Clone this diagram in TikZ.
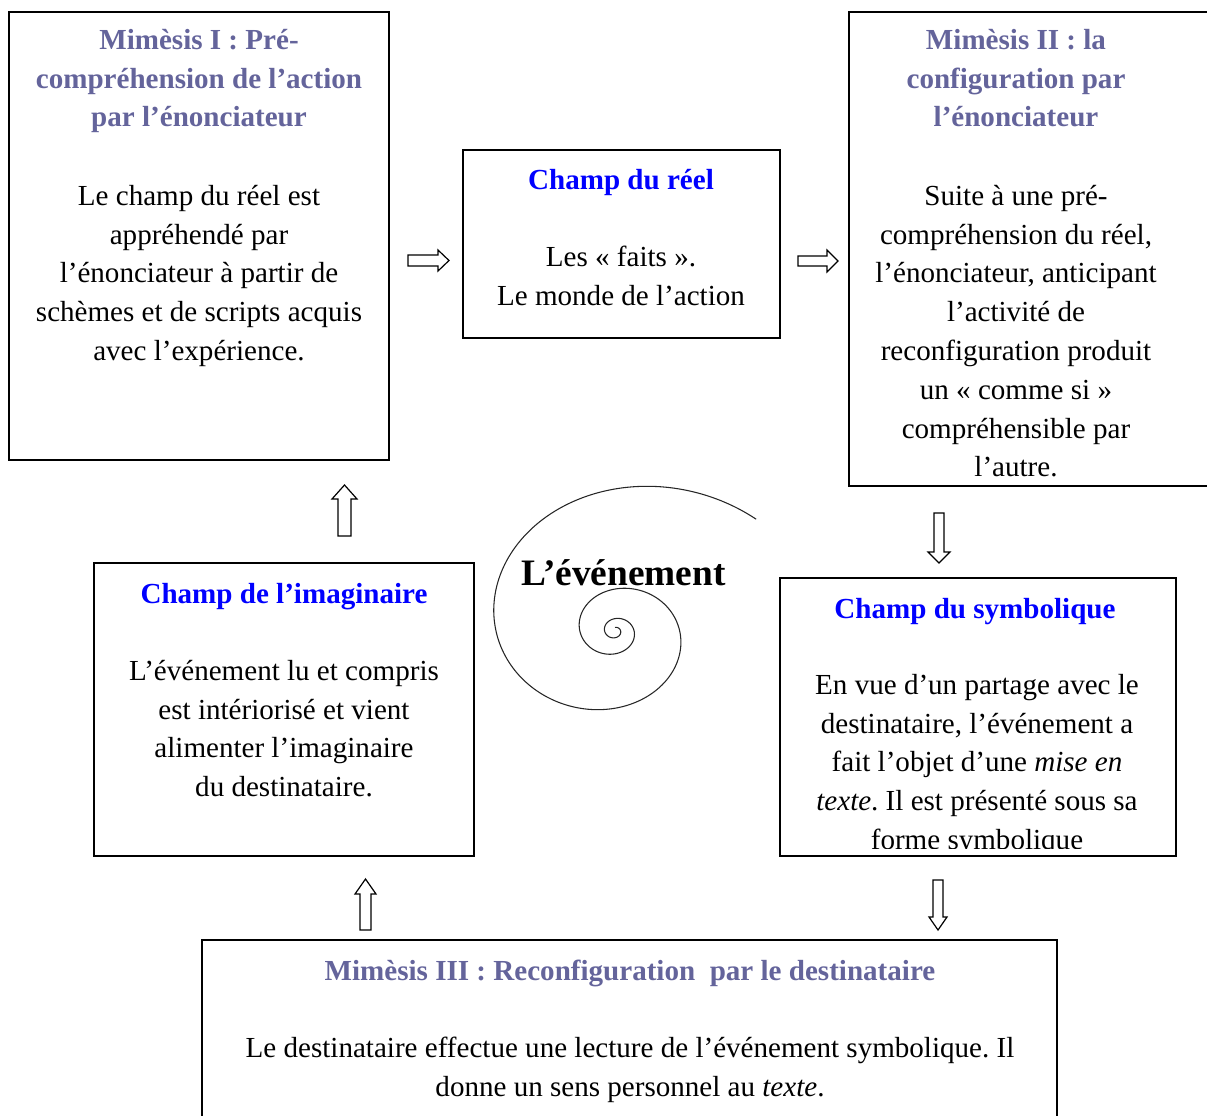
\documentclass[tikz,border=0pt]{standalone}
\usepackage{fontspec}
\setmainfont{Liberation Serif}
\frenchspacing
\definecolor{mim}{RGB}{100,100,155}
\definecolor{champ}{RGB}{0,0,255}
\tikzset{
  box/.style={draw=black, line width=1.1pt},
  txt/.style={inner sep=0pt, align=center, anchor=north, yshift=17.4pt,
    font=\fontsize{21.8pt}{29.1pt}\selectfont\frenchspacing},
  mimtitle/.style={txt, text=mim, font=\fontsize{21.8pt}{29.1pt}\selectfont\bfseries},
  champtitle/.style={txt, text=champ, font=\fontsize{21.8pt}{29.1pt}\selectfont\bfseries},
  blockarrow/.style={draw=black, line width=0.9pt, fill=white, line join=miter}
}
\begin{document}
\begin{tikzpicture}[x=0.75pt,y=-0.75pt]
\useasboundingbox (0,0) rectangle (1207,1115);
\clip (0,0) rectangle (1207,1115);

% boxes
\draw[box] (9,12) rectangle (389,460);
\draw[box] (463,150) rectangle (780,338);
\draw[box] (849,12) rectangle (1240,486);
\draw[box] (94,563) rectangle (474,856);
\draw[box] (780,578) rectangle (1176,856);
\draw[box] (202,940) rectangle (1057,1140);

% box 1
\node[mimtitle] (m1t) at (199,45) {\strut Mimèsis I : Pré-\\compréhension de l’action\\par l’énonciateur};
\node[txt] (m1b) at (199,201) {\strut Le champ du réel est\\appréhendé par\\l’énonciateur à partir de\\schèmes et de scripts acquis\\avec l’expérience.};

% box 2
\node[champtitle] (c1t) at (621,185) {\strut Champ du réel};
\node[txt] (c1b) at (621,262) {\strut Les « faits ».\\Le monde de l’action};

% box 3
\node[mimtitle] (m2t) at (1016,45) {\strut Mimèsis II : la\\configuration par\\l’énonciateur};
\node[txt] (m2b) at (1016,201) {\strut Suite à une pré-\\compréhension du réel,\\l’énonciateur, anticipant\\l’activité de\\reconfiguration produit\\un « comme si »\\compréhensible par\\l’autre.};

% box 4
\node[champtitle] (c3t) at (284,599) {\strut Champ de l’imaginaire};
\node[txt] (c3b) at (284,676) {\strut L’événement lu et compris\\est intériorisé et vient\\alimenter l’imaginaire\\du destinataire.};

% box 5
\node[champtitle] (c2t) at (975,614) {\strut Champ du symbolique};
\begin{scope}
\clip (781,579) rectangle (1175,848);
\node[txt] (c2b) at (977,690) {\strut En vue d’un partage avec le\\destinataire, l’événement a\\fait l’objet d’une \textit{mise en}\\\textit{texte}. Il est présenté sous sa\\forme symbolique};
\end{scope}

% box 6
\node[mimtitle] (m3t) at (630,976) {\strut Mimèsis III : Reconfiguration\ \ par le destinataire};
\node[txt] (m3b) at (630,1053) {\strut Le destinataire effectue une lecture de l’événement symbolique. Il\\donne un sens personnel au \textit{texte}.};

% spiral
\draw[line width=0.8pt, black!85] plot[domain=42:1170, samples=600, smooth]
  ({615+119*exp(-0.00339*(\x-180))*cos(\x)}, {631-0.88*119*exp(-0.00339*(\x-180))*sin(\x)});
\node[inner sep=0pt, anchor=base, font=\fontsize{28pt}{34pt}\selectfont\bfseries] (ev) at (623.5,585) {L’événement};

% block arrows
\draw[blockarrow] (408,255)--(438,255)--(438,250)--(449,260.5)--(438,271)--(438,266)--(408,266)--cycle;
\draw[blockarrow] (798,256)--(827,256)--(827,250)--(838,261)--(827,272)--(827,266)--(798,266)--cycle;
\draw[blockarrow] (338,536)--(338,499)--(332,499)--(344.5,485)--(357,499)--(351,499)--(351,536)--cycle;
\draw[blockarrow] (360,930)--(360,894)--(355,894)--(365.5,879)--(376,894)--(371,894)--(371,930)--cycle;
\draw[blockarrow] (934,513)--(944,513)--(944,552)--(950,552)--(939,563)--(928,552)--(934,552)--cycle;
\draw[blockarrow] (933,880)--(943,880)--(943,917)--(947,917)--(938,930)--(929,917)--(933,917)--cycle;
\end{tikzpicture}
\end{document}
